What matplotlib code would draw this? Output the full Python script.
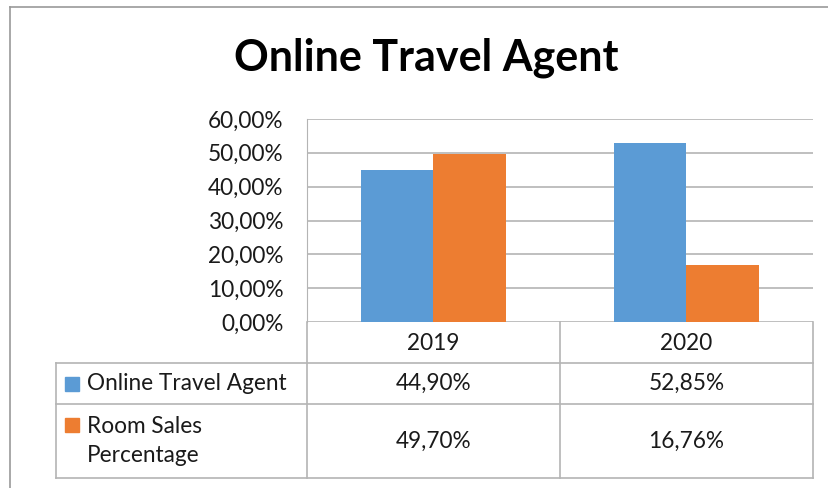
import matplotlib
matplotlib.use("Agg")
import matplotlib.pyplot as plt
from matplotlib.lines import Line2D

categories = ["2019", "2020"]
series_names = ["Online Travel Agent", "Room Sales\nPercentage"]
online_travel_agent = [44.90, 52.85]
room_sales_pct = [49.70, 16.76]
yticks = [0, 10, 20, 30, 40, 50, 60]

colors = ["#5B9BD5", "#ED7D31"]
grid_c = "#B4B4B4"
FONT = ["Lato", "DejaVu Sans"]
plt.rcParams["font.family"] = FONT

W, H = 829, 488
fig = plt.figure(figsize=(W / 100, H / 100), dpi=100)

def fx(px):
    return px / W

def fy(py):
    return 1 - py / H

fs = 16.3
L, R, T, B = 307, 813, 119, 322
ax = fig.add_axes([fx(L), fy(B), fx(R) - fx(L), fy(T) - fy(B)])
bw = 0.287
xs = range(len(categories))
ax.bar([x - bw / 2 for x in xs], online_travel_agent, width=bw, color=colors[0], zorder=3)
ax.bar([x + bw / 2 for x in xs], room_sales_pct, width=bw, color=colors[1], zorder=3)
ax.set_xlim(-0.5, len(categories) - 0.5)
ax.set_ylim(0, 60)
ax.set_yticks(yticks)
ax.set_yticklabels([f"{v:.2f}".replace(".", ",") + "%" for v in yticks], fontsize=fs, color="#1a1a1a")
ax.tick_params(axis="y", length=0, pad=17)
ax.set_xticks([])
for s in ["top", "right", "bottom"]:
    ax.spines[s].set_visible(False)
ax.spines["left"].set_color(grid_c)
ax.yaxis.grid(True, color=grid_c, lw=1.2, zorder=0)
ax.set_axisbelow(True)

# overlay in pixel coordinates
ov = fig.add_axes([0, 0, 1, 1], zorder=5)
ov.set_xlim(0, W)
ov.set_ylim(H, 0)
ov.axis("off")
ov.patch.set_alpha(0)

# outer frame
ov.add_line(Line2D([10.5, W], [7, 7], color="#999999", lw=1.2))
ov.add_line(Line2D([10.5, 10.5], [7, H], color="#999999", lw=1.2))

fig.text(0.5 * (fx(233) + fx(620)), fy(58), "Online Travel Agent", ha="center", va="center",
         fontsize=31, fontweight="bold", color="black", family=FONT)

# data table
col_edges = [L + (R - L) * i / len(categories) for i in range(len(categories) + 1)]
left_x = 56
rows = [322, 363, 404, 478]
lc = grid_c
lw = 1.2
for xe in col_edges:
    ov.add_line(Line2D([xe, xe], [rows[0], rows[-1]], color=lc, lw=lw))
ov.add_line(Line2D([left_x, left_x], [rows[1], rows[-1]], color=lc, lw=lw))
for ry in rows[1:]:
    ov.add_line(Line2D([left_x, R], [ry, ry], color=lc, lw=lw))

for i, c in enumerate(categories):
    cx = 0.5 * (col_edges[i] + col_edges[i + 1])
    ov.text(cx, 343, c, ha="center", va="center", fontsize=fs, color="#1a1a1a")

values = [online_travel_agent, room_sales_pct]
for r, (name, vals) in enumerate(zip(series_names, values)):
    ymid = 0.5 * (rows[r + 1] + rows[r + 2])
    for i, v in enumerate(vals):
        cx = 0.5 * (col_edges[i] + col_edges[i + 1])
        ov.text(cx, ymid, f"{v:.2f}".replace(".", ",") + "%", ha="center", va="center",
                fontsize=fs, color="#1a1a1a")
    if r == 0:
        ov.add_patch(plt.Rectangle((65, 377), 14, 14, color=colors[r]))
        ov.text(87, ymid, name, ha="left", va="center", fontsize=fs, color="#1a1a1a")
    else:
        ov.add_patch(plt.Rectangle((65, 418), 14, 14, color=colors[r]))
        ov.text(87, ymid, name, ha="left", va="center", fontsize=fs, color="#1a1a1a",
                linespacing=1.5)

fig.savefig("out.png", dpi=100)
